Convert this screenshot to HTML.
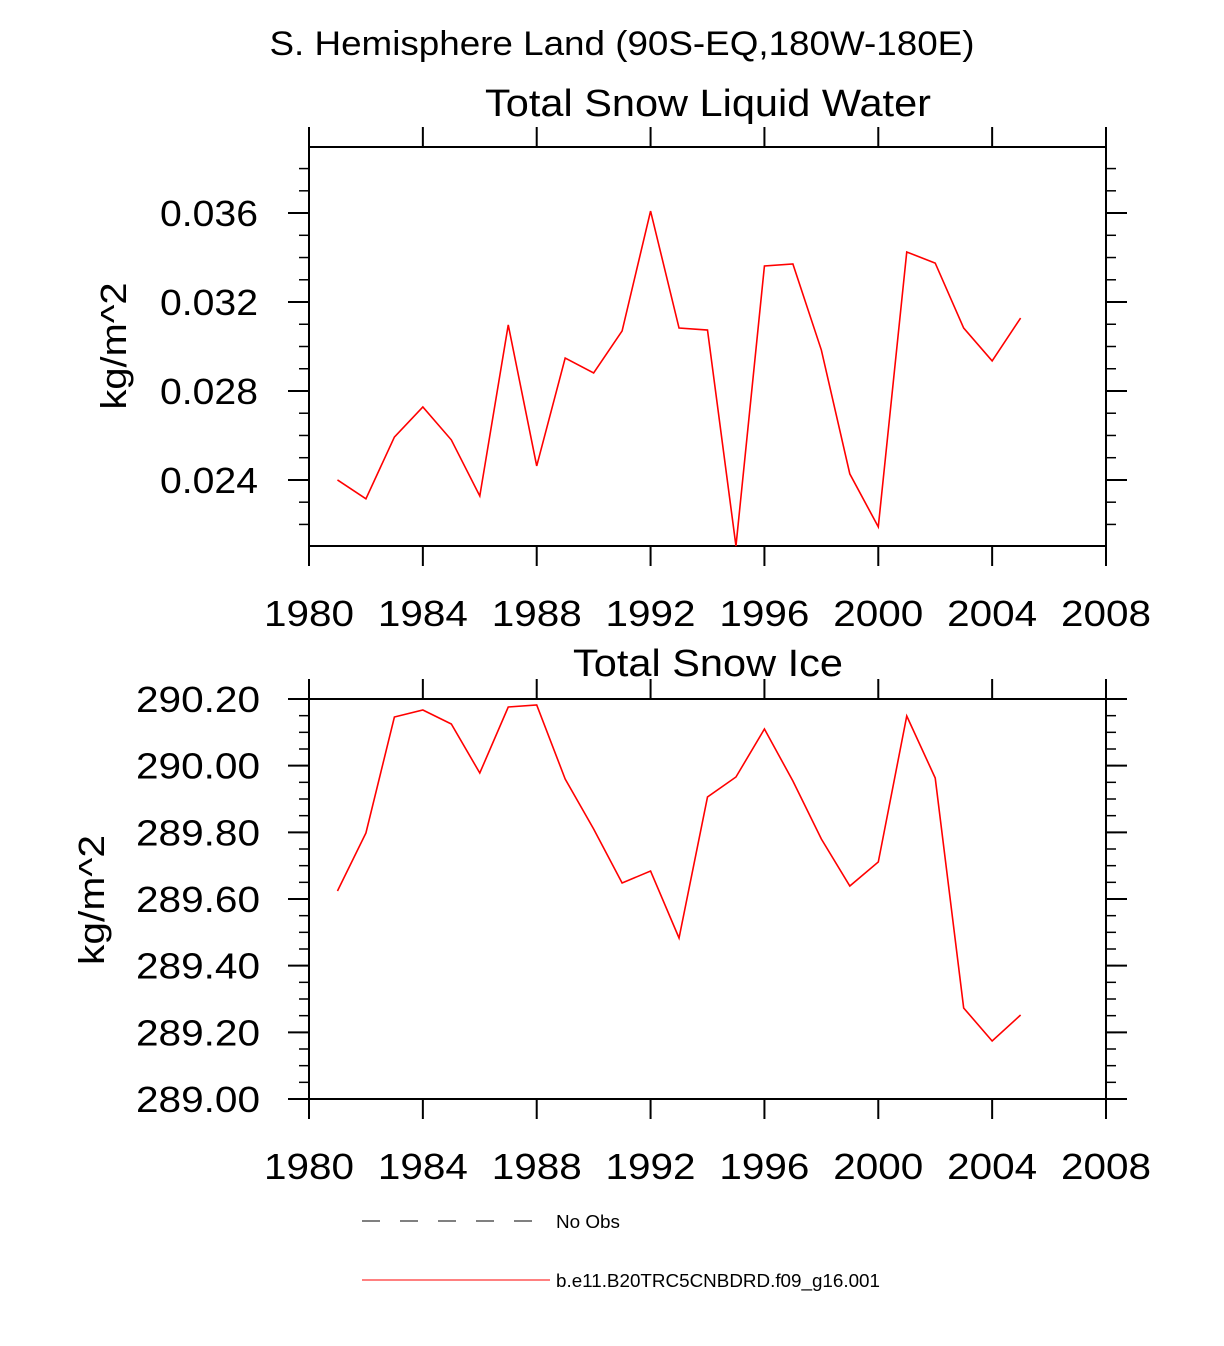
<!DOCTYPE html>
<html><head><meta charset="utf-8"><style>
body{margin:0;background:#fff}
svg{display:block;font-family:"Liberation Sans",sans-serif}
</style></head><body>
<svg id="c" width="1224" height="1346">
<text x="622" y="55" font-size="34" text-anchor="middle" textLength="705" lengthAdjust="spacingAndGlyphs">S. Hemisphere Land (90S-EQ,180W-180E)</text>
<text x="708" y="116" font-size="38" text-anchor="middle" textLength="446" lengthAdjust="spacingAndGlyphs">Total Snow Liquid Water</text>
<text x="708" y="676" font-size="38" text-anchor="middle" textLength="270" lengthAdjust="spacingAndGlyphs">Total Snow Ice</text>
<text transform="translate(126,346) rotate(-90)" font-size="36" text-anchor="middle" textLength="127" lengthAdjust="spacingAndGlyphs">kg/m^2</text>
<text transform="translate(104,900) rotate(-90)" font-size="36" text-anchor="middle" textLength="130" lengthAdjust="spacingAndGlyphs">kg/m^2</text>
<g>
<line x1="362" y1="1221" x2="550" y2="1221" stroke="#000" stroke-width="1" stroke-dasharray="18,20"/>
<text x="556" y="1228" font-size="18" textLength="64" lengthAdjust="spacingAndGlyphs">No Obs</text>
<line x1="362" y1="1280" x2="550" y2="1280" stroke="red" stroke-width="1"/>
<text x="556" y="1287" font-size="18" textLength="324" lengthAdjust="spacingAndGlyphs">b.e11.B20TRC5CNBDRD.f09_g16.001</text>
</g>
</svg>
<script>
const years=[1981,1982,1983,1984,1985,1986,1987,1988,1989,1990,1991,1992,1993,1994,1995,1996,1997,1998,1999,2000,2001,2002,2003,2004,2005];
const liquidWater=[0.0240,0.02315,0.02593,0.02728,0.02580,0.02328,0.03097,0.02463,0.02948,0.02881,0.03070,0.03609,0.03083,0.03074,0.02103,0.03362,0.03371,0.02984,0.02427,0.02189,0.03425,0.03375,0.03083,0.02935,0.03128];
const snowIce=[289.624,289.798,290.146,290.167,290.125,289.978,290.176,290.182,289.96,289.81,289.648,289.684,289.483,289.906,289.966,290.11,289.954,289.78,289.639,289.711,290.149,289.963,289.273,289.174,289.252];
const xTicks=[1980,1984,1988,1992,1996,2000,2004,2008];
const topYTicks=[0.024,0.028,0.032,0.036];
const botYTicks=[289.00,289.20,289.40,289.60,289.80,290.00,290.20];
const NS="http://www.w3.org/2000/svg";
const svg=document.getElementById('c');
function mk(t,a,p){const e=document.createElementNS(NS,t);for(const k in a)e.setAttribute(k,a[k]);(p||svg).appendChild(e);return e;}
function panel(name,top,bot,ymin,ymax,yt,minorStep,dec,data,labelX,yLabW){
  const L=309,R=1106;
  const xs=v=>L+(v-1980)/28*(R-L);
  const ys=v=>bot-(v-ymin)/(ymax-ymin)*(bot-top);
  const g=mk('g',{});
  
  
  mk('rect',{x:L,y:top,width:R-L,height:bot-top,fill:'none',stroke:'#000','stroke-width':2},g);
  const start=Math.ceil(ymin/minorStep-1e-6);
  for(let i=start;i*minorStep<=ymax+1e-9;i++){
    const y=ys(i*minorStep);
    mk('line',{x1:L-10,x2:L,y1:y,y2:y,stroke:'#000','stroke-width':1.5},g);
    mk('line',{x1:R,x2:R+10,y1:y,y2:y,stroke:'#000','stroke-width':1.5},g);
  }
  yt.forEach(v=>{const y=ys(v);
    mk('line',{x1:L-21,x2:L,y1:y,y2:y,stroke:'#000','stroke-width':2},g);
    mk('line',{x1:R,x2:R+21,y1:y,y2:y,stroke:'#000','stroke-width':2},g);
    const t=mk('text',{x:labelX,y:y+13,'font-size':36,'text-anchor':'end',textLength:yLabW,lengthAdjust:'spacingAndGlyphs'},g);
    
    
    t.textContent=v.toFixed(dec);
  });
  xTicks.forEach(v=>{const x=xs(v);
    mk('line',{x1:x,x2:x,y1:top-20,y2:top,stroke:'#000','stroke-width':2},g);
    mk('line',{x1:x,x2:x,y1:bot,y2:bot+20,stroke:'#000','stroke-width':2},g);
    const t=mk('text',{x:x,y:bot+80,'font-size':36,'text-anchor':'middle',textLength:90,lengthAdjust:'spacingAndGlyphs'},g);
    
    
    t.textContent=v;
  });
  const p=mk('polyline',{points:years.map((yr,i)=>xs(yr)+','+ys(data[i])).join(' '),fill:'none',stroke:'red','stroke-width':1.6},g);
  
  
}
panel('snow-liquid-water',147,546,0.02103,0.03897,topYTicks,0.001,3,liquidWater,258,98);
panel('snow-ice',699,1099,289.0,290.2,botYTicks,0.05,2,snowIce,260,124);
</script>
</body></html>
